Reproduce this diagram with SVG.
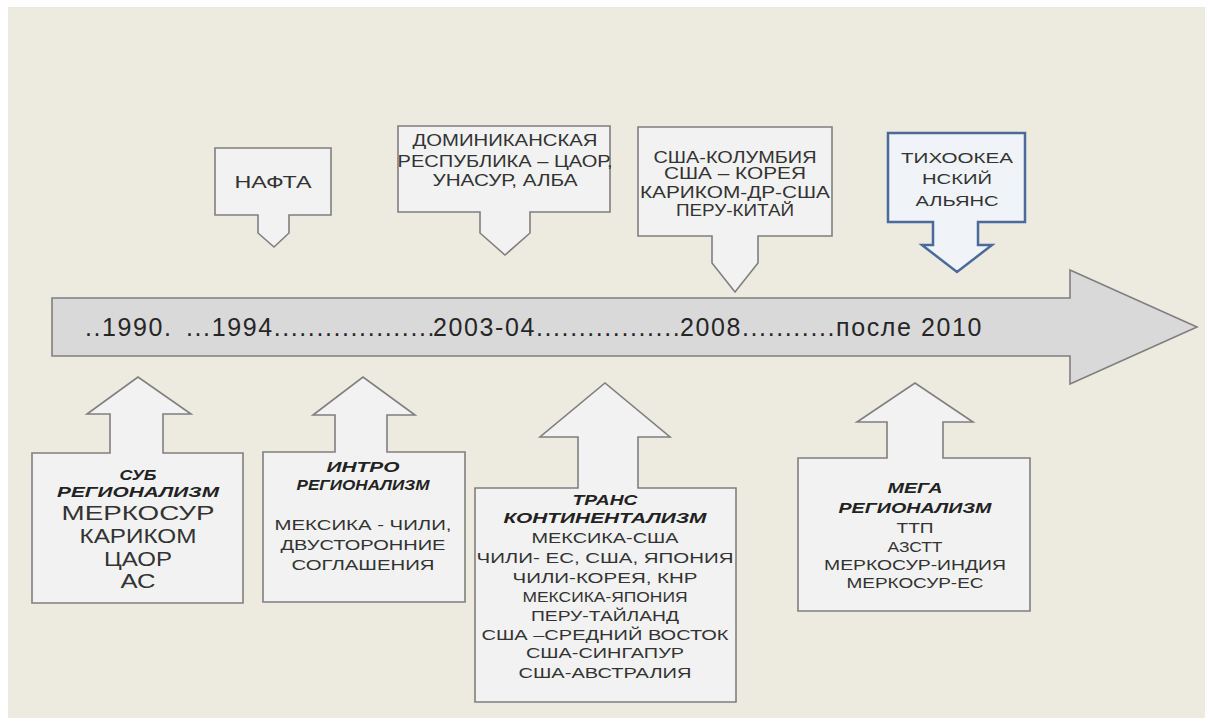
<svg xmlns="http://www.w3.org/2000/svg" width="1211" height="723" viewBox="0 0 1211 723">
<style>
.bg{fill:#EDEAE0}
.box{fill:#F2F2F2;stroke:#7F7F7F;stroke-width:1.6}
.blue{fill:#F0F3F8;stroke:#4A6A9C;stroke-width:2.5}
.tl{fill:#D9D9D9;stroke:#7F7F7F;stroke-width:1.6}
text{font-family:"Liberation Sans",Arial,sans-serif;fill:#333;text-anchor:middle}
.t16{font-size:16px}
.t15{font-size:15px}
.t20{font-size:20px}
.hd{font-size:14px;font-weight:bold;font-style:italic;fill:#222}
.year{font-size:25px;text-anchor:start;letter-spacing:1.6px;fill:#262626}
</style>
<rect class="bg" x="8" y="7" width="1197" height="711"/>

<g id="timeline">
<path class="tl" d="M52,298 H1070 V270 L1197,327 L1070,384 V356 H52 Z"/>
<text class="year" y="336"><tspan x="85">..1990. </tspan><tspan x="186">...1994...................</tspan><tspan x="433">2003-04.................</tspan><tspan x="680">2008...........</tspan><tspan x="836">после 2010</tspan></text>
</g>

<g id="connectors"></g>

<g id="nafta">
<path class="box" d="M215,148 H331 V215 H289 V233 L274,247 L258,233 V215 H215 Z"/>
<text class="t16" x="273" y="188" textLength="77" lengthAdjust="spacingAndGlyphs">НАФТА</text>
</g>

<g id="dominican">
<path class="box" d="M398,126 H610 V212 H530 V233 L505,255 L480,233 V212 H398 Z"/>
<text class="t16" x="505" y="146" textLength="185" lengthAdjust="spacingAndGlyphs">ДОМИНИКАНСКАЯ</text>
<text class="t16" x="505" y="167" textLength="215" lengthAdjust="spacingAndGlyphs">РЕСПУБЛИКА – ЦАОР,</text>
<text class="t16" x="505" y="186" textLength="145" lengthAdjust="spacingAndGlyphs">УНАСУР, АЛБА</text>
</g>

<g id="usa">
<path class="box" d="M638,127 H832 V236 H758 V263 L735,292 L712,263 V236 H638 Z"/>
<text class="t16" x="735" y="163" textLength="163" lengthAdjust="spacingAndGlyphs">США-КОЛУМБИЯ</text>
<text class="t16" x="735" y="179" textLength="142" lengthAdjust="spacingAndGlyphs">США – КОРЕЯ</text>
<text class="t16" x="735" y="198" textLength="190" lengthAdjust="spacingAndGlyphs">КАРИКОМ-ДР-США</text>
<text class="t16" x="735" y="216" textLength="118" lengthAdjust="spacingAndGlyphs">ПЕРУ-КИТАЙ</text>
</g>

<g id="pacific">
<path class="blue" d="M888,133 H1025 V222 H978 V245 H992 L957,272 L922,245 H933 V222 H888 Z"/>
<text class="t15" x="957" y="163" textLength="112" lengthAdjust="spacingAndGlyphs">ТИХООКЕА</text>
<text class="t15" x="957" y="184" textLength="70" lengthAdjust="spacingAndGlyphs">НСКИЙ</text>
<text class="t15" x="957" y="206" textLength="83" lengthAdjust="spacingAndGlyphs">АЛЬЯНС</text>
</g>

<g id="sub">
<path class="box" d="M32,453 H110 V414 H87 L138,377 L191,414 H163 V453 H243 V603 H32 Z"/>
<text class="hd" x="138" y="480" textLength="37" lengthAdjust="spacingAndGlyphs">СУБ</text>
<text class="hd" x="138" y="497" textLength="162" lengthAdjust="spacingAndGlyphs">РЕГИОНАЛИЗМ</text>
<text class="t20" x="138" y="520" textLength="153" lengthAdjust="spacingAndGlyphs">МЕРКОСУР</text>
<text class="t20" x="138" y="543" textLength="117" lengthAdjust="spacingAndGlyphs">КАРИКОМ</text>
<text class="t20" x="138" y="566" textLength="68" lengthAdjust="spacingAndGlyphs">ЦАОР</text>
<text class="t20" x="138" y="588" textLength="35" lengthAdjust="spacingAndGlyphs">АС</text>
</g>

<g id="intro">
<path class="box" d="M263,452 H335 V415 H313 L363,377 L415,415 H387 V452 H465 V602 H263 Z"/>
<text class="hd" x="363" y="472" textLength="73" lengthAdjust="spacingAndGlyphs">ИНТРО</text>
<text class="hd" x="363" y="490" textLength="133" lengthAdjust="spacingAndGlyphs">РЕГИОНАЛИЗМ</text>
<text class="t15" x="363" y="530" textLength="177" lengthAdjust="spacingAndGlyphs">МЕКСИКА - ЧИЛИ,</text>
<text class="t15" x="363" y="550" textLength="165" lengthAdjust="spacingAndGlyphs">ДВУСТОРОННИЕ</text>
<text class="t15" x="363" y="570" textLength="143" lengthAdjust="spacingAndGlyphs">СОГЛАШЕНИЯ</text>
</g>

<g id="trans">
<path class="box" d="M475,488 H578 V437 H540 L605,383 L670,437 H638 V488 H736 V702 H475 Z"/>
<text class="hd" x="605" y="505" textLength="65" lengthAdjust="spacingAndGlyphs">ТРАНС</text>
<text class="hd" x="605" y="523" textLength="203" lengthAdjust="spacingAndGlyphs">КОНТИНЕНТАЛИЗМ</text>
<text class="t15" x="605" y="543" textLength="147" lengthAdjust="spacingAndGlyphs">МЕКСИКА-США</text>
<text class="t15" x="605" y="563" textLength="257" lengthAdjust="spacingAndGlyphs">ЧИЛИ- ЕС, США, ЯПОНИЯ</text>
<text class="t15" x="605" y="583" textLength="185" lengthAdjust="spacingAndGlyphs">ЧИЛИ-КОРЕЯ, КНР</text>
<text class="t15" x="605" y="602" textLength="165" lengthAdjust="spacingAndGlyphs">МЕКСИКА-ЯПОНИЯ</text>
<text class="t15" x="605" y="621" textLength="148" lengthAdjust="spacingAndGlyphs">ПЕРУ-ТАЙЛАНД</text>
<text class="t15" x="605" y="640" textLength="247" lengthAdjust="spacingAndGlyphs">США –СРЕДНИЙ ВОСТОК</text>
<text class="t15" x="605" y="658" textLength="158" lengthAdjust="spacingAndGlyphs">США-СИНГАПУР</text>
<text class="t15" x="605" y="678" textLength="173" lengthAdjust="spacingAndGlyphs">США-АВСТРАЛИЯ</text>
</g>

<g id="mega">
<path class="box" d="M798,458 H887 V422 H857 L915,383 L973,422 H943 V458 H1030 V611 H798 Z"/>
<text class="hd" x="915" y="493" textLength="55" lengthAdjust="spacingAndGlyphs">МЕГА</text>
<text class="hd" x="915" y="513" textLength="153" lengthAdjust="spacingAndGlyphs">РЕГИОНАЛИЗМ</text>
<text class="t15" x="915" y="533" textLength="37" lengthAdjust="spacingAndGlyphs">ТТП</text>
<text class="t15" x="915" y="552" textLength="55" lengthAdjust="spacingAndGlyphs">АЗСТТ</text>
<text class="t15" x="915" y="570" textLength="182" lengthAdjust="spacingAndGlyphs">МЕРКОСУР-ИНДИЯ</text>
<text class="t15" x="915" y="588" textLength="137" lengthAdjust="spacingAndGlyphs">МЕРКОСУР-ЕС</text>
</g>
</svg>
